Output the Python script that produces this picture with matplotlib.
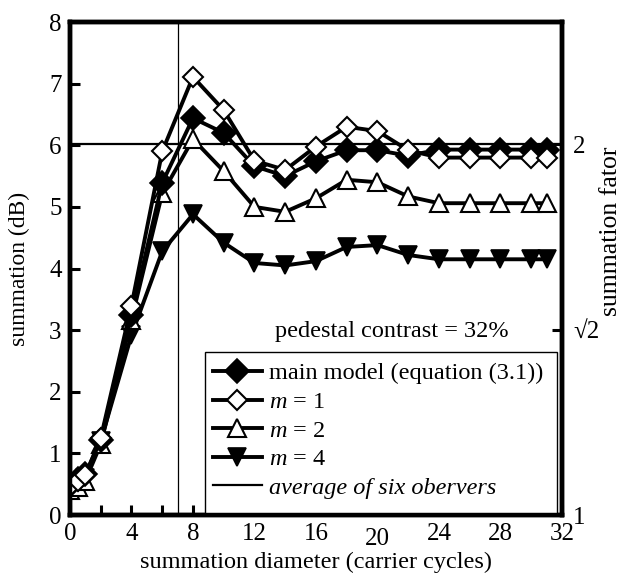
import numpy as np
import matplotlib
matplotlib.use("Agg")
import matplotlib.pyplot as plt
import matplotlib.transforms as mtransforms
from matplotlib.ticker import MultipleLocator, FixedLocator
from matplotlib.lines import Line2D
from matplotlib.patches import Rectangle

plt.rcParams['font.family'] = ['Liberation Serif', 'DejaVu Serif']
plt.rcParams['mathtext.fontset'] = 'custom'
plt.rcParams['mathtext.it'] = 'Liberation Serif:italic'
plt.rcParams['mathtext.rm'] = 'Liberation Serif'

# ---- data ----
diameter = [0, 0.5, 1, 2, 4, 6, 8, 10, 12, 14, 16, 18, 20, 22, 24, 26, 28, 30, 31]
main_model = [0.48, 0.58, 0.66, 1.22, 3.25, 5.39, 6.44, 6.20, 5.66, 5.50, 5.74,
              5.92, 5.92, 5.83, 5.93, 5.93, 5.93, 5.93, 5.93]
m1 = [0.47, 0.55, 0.65, 1.25, 3.40, 5.90, 7.11, 6.57, 5.75, 5.60, 5.98,
      6.30, 6.23, 5.92, 5.80, 5.80, 5.80, 5.80, 5.80]
m2 = [0.40, 0.45, 0.56, 1.15, 3.17, 5.22, 6.10, 5.58, 5.00, 4.92, 5.14,
      5.44, 5.40, 5.17, 5.06, 5.06, 5.06, 5.06, 5.06]
m4 = [0.36, 0.46, 0.60, 1.20, 2.92, 4.28, 4.88, 4.42, 4.09, 4.05, 4.12,
      4.35, 4.38, 4.22, 4.15, 4.15, 4.15, 4.15, 4.15]
observer_avg_db = 6.0206   # average of six observers (horizontal line)
observer_diam = 7          # vertical line
x_ticks = [0, 4, 8, 12, 16, 20, 24, 28, 32]
y_ticks = [0, 1, 2, 3, 4, 5, 6, 7, 8]
right_ticks = [0.0, 3.0103, 6.0206]
right_labels = ['1', '\u221a2', '2']
legend_labels = ['main model (equation (3.1))', '$m$ = 1', '$m$ = 2', '$m$ = 4',
                 'average of six obervers']

fig = plt.figure(figsize=(6.25, 5.75), dpi=100)
ax = fig.add_axes([0.112, 0.1043, 0.787, 0.8574])

lw = 2.8
ax.axhline(observer_avg_db, color='black', lw=1.6, zorder=1)
ax.axvline(observer_diam, color='black', lw=0.9, zorder=1)

h4, = ax.plot(diameter, m4, color='black', lw=lw, marker='v', ms=13,
              mfc='black', mec='black', mew=1.2, zorder=3)
h2, = ax.plot(diameter, m2, color='black', lw=lw, marker='^', ms=13,
              mfc='white', mec='black', mew=1.5, zorder=4)
hm, = ax.plot(diameter, main_model, color='black', lw=lw, marker='D', ms=12.5,
              mfc='black', mec='black', mew=1.2, zorder=5)
h1, = ax.plot(diameter, m1, color='black', lw=lw, marker='D', ms=10,
              mfc='white', mec='black', mew=1.5, zorder=6)

ax.set_xlim(0, 32)
ax.set_ylim(0, 8)
ax.xaxis.set_major_locator(FixedLocator(x_ticks))
ax.xaxis.set_minor_locator(MultipleLocator(2))
ax.yaxis.set_major_locator(FixedLocator(y_ticks))
ax.tick_params(axis='both', which='major', direction='in', length=7, width=2.2,
               labelsize=18, pad=6)
ax.tick_params(axis='x', which='minor', direction='in', length=7, width=2.2)
ax.tick_params(axis='y', which='major', right=True)
for s in ax.spines.values():
    s.set_linewidth(3.2)

# the "20" label sits slightly lower in the reference
for t in ax.get_xticklabels():
    if t.get_text() == '20':
        t.set_transform(t.get_transform() + mtransforms.ScaledTranslation(0, -3/72, fig.dpi_scale_trans))

ax.set_xlabel('summation diameter (carrier cycles)', fontsize=17.5, labelpad=2)
ax.set_ylabel('summation (dB)', fontsize=17, labelpad=14)

ax2 = ax.twinx()
ax2.set_ylim(0, 8)
ax2.yaxis.set_major_locator(FixedLocator(right_ticks))
ax2.set_yticklabels(right_labels)
ax2.tick_params(axis='y', direction='in', length=7, width=2.2, labelsize=18, pad=8)
ax2.set_ylabel('summation fator', fontsize=18.5)
ax2.yaxis.set_label_coords(1.078, 0.576)
for s in ax2.spines.values():
    s.set_linewidth(3.2)

ax.text(0.655, 0.372, 'pedestal contrast = 32%', transform=ax.transAxes,
        ha='center', va='center', fontsize=17.5)

# legend box (frame drawn separately; bottom edge hidden under the x axis)
frame = Rectangle((0.274, -0.05), 0.716, 0.381, transform=ax.transAxes,
                  facecolor='white', edgecolor='black', lw=1.0, zorder=7,
                  clip_on=True)
ax.add_patch(frame)

avg_handle = Line2D([], [], color='black', lw=1.6)
leg = ax.legend([hm, h1, h2, h4, avg_handle], legend_labels,
                loc='lower left', bbox_to_anchor=(0.2907, 0.033), numpoints=1,
                fontsize=17.5, frameon=False,
                handlelength=2.0, handletextpad=0.3, borderpad=0.0,
                labelspacing=0.27, borderaxespad=0.0)
leg.get_texts()[-1].set_style('italic')
leg.set_zorder(8)

fig.savefig('out.png', dpi=100)
